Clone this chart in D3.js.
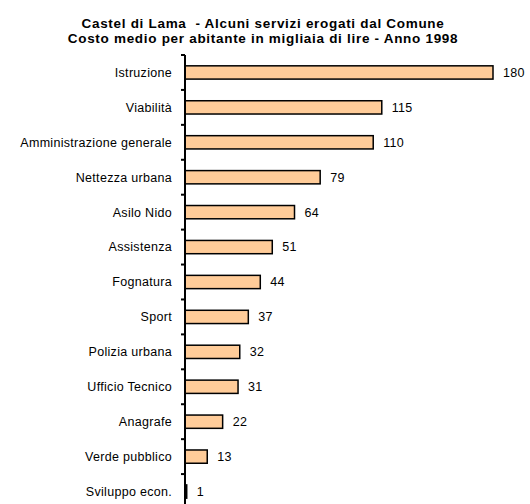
<!DOCTYPE html>
<html>
<head>
<meta charset="utf-8">
<script src="https://cdn.jsdelivr.net/npm/d3@7"></script>
<style>
  html, body { margin: 0; padding: 0; background: #fff; }
  svg { display: block; font-family: "Liberation Sans", Arial, sans-serif; }
</style>
</head>
<body>
<svg id="chart" width="530" height="504"></svg>
<script>
const titleLines = [
  "Castel di Lama  - Alcuni servizi erogati dal Comune",
  "Costo medio per abitante in migliaia di lire - Anno 1998"
];
const categories = [
  "Istruzione", "Viabilità", "Amministrazione generale", "Nettezza urbana",
  "Asilo Nido", "Assistenza", "Fognatura", "Sport", "Polizia urbana",
  "Ufficio Tecnico", "Anagrafe", "Verde pubblico", "Sviluppo econ."
];
const values = [180, 115, 110, 79, 64, 51, 44, 37, 32, 31, 22, 13, 1];

(function () {
const svg = d3.select("#chart");
const axisX = 185;

const x = d3.scaleLinear().domain([0, 180]).range([axisX, 493]);
const y = d3.scaleBand().domain(categories).range([55, 509])
  .paddingInner(0.62).paddingOuter(0.31);

// Title
svg.append("g").selectAll("text").data(titleLines).join("text")
  .attr("x", 263).attr("y", (d, i) => 28 + i * 15)
  .attr("text-anchor", "middle")
  .attr("font-size", 13.5).attr("font-weight", "bold")
  .attr("letter-spacing", 0.7)
  .attr("fill", "#000")
  .style("white-space", "pre")
  .text(d => d);

const data = categories.map((c, i) => ({ c, v: values[i] }));

// Bars
svg.append("g").selectAll("rect").data(data).join("rect")
  .attr("x", x(0))
  .attr("y", d => y(d.c))
  .attr("width", d => x(d.v) - x(0))
  .attr("height", y.bandwidth())
  .attr("fill", "#FFCC99")
  .attr("stroke", "#000")
  .attr("stroke-width", 1.5);

// Axis line and ticks at band boundaries
const step = y.step();
const y0 = y.range()[0];
const ax = svg.append("g");
ax.append("line")
  .attr("x1", axisX).attr("x2", axisX)
  .attr("y1", y0).attr("y2", 504)
  .attr("stroke", "#000").attr("stroke-width", 2);
ax.selectAll("line.tick").data(d3.range(categories.length + 1)).join("line")
  .attr("class", "tick")
  .attr("x1", axisX - 4).attr("x2", axisX)
  .attr("y1", i => y0 + i * step).attr("y2", i => y0 + i * step)
  .attr("stroke", "#000").attr("stroke-width", 2);

// Category labels
svg.append("g").selectAll("text").data(data).join("text")
  .attr("x", 172)
  .attr("y", d => y(d.c) + y.bandwidth() / 2)
  .attr("dy", "0.35em")
  .attr("text-anchor", "end")
  .attr("font-size", 12.5)
  .attr("letter-spacing", 0.3)
  .attr("fill", "#000")
  .text(d => d.c);

// Value labels
svg.append("g").selectAll("text").data(data).join("text")
  .attr("x", d => x(d.v) + 10)
  .attr("y", d => y(d.c) + y.bandwidth() / 2)
  .attr("dy", "0.35em")
  .attr("text-anchor", "start")
  .attr("font-size", 12.5)
  .attr("letter-spacing", 0.3)
  .attr("fill", "#000")
  .text(d => d.v);
})();
</script>
</body>
</html>
